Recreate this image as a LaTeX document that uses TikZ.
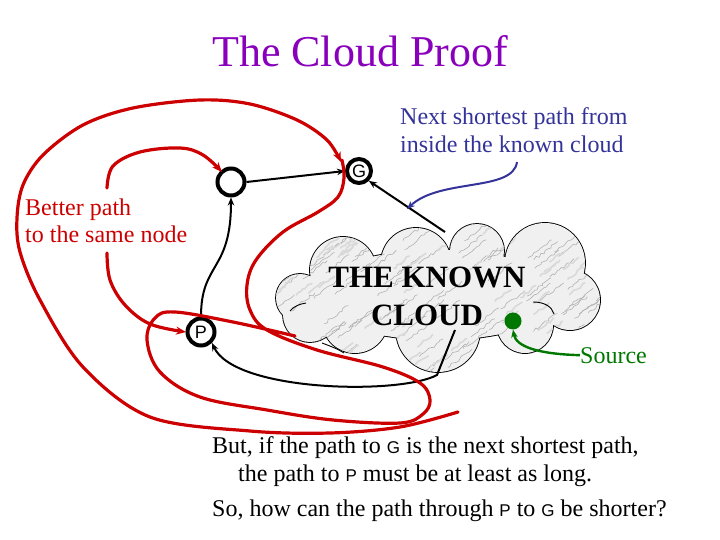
\documentclass[tikz,border=0pt]{standalone}
\usepackage{fontspec}
\setmainfont{Liberation Serif}
\setsansfont{Liberation Sans}
\usetikzlibrary{arrows.meta,decorations.pathmorphing}

\definecolor{titlepurple}{RGB}{136,0,187}
\definecolor{pathred}{RGB}{204,0,0}
\definecolor{noteblue}{RGB}{51,51,153}
\definecolor{srcgreen}{RGB}{0,120,0}

\newcommand{\cloudpath}{(300,298) circle[radius=24] (343,270) circle[radius=33]
  (416,263) circle[radius=35] (477,251) circle[radius=27] (545,263) circle[radius=40]
  (570,300) circle[radius=30] (525,325) circle[radius=28] (438,330) circle[radius=42]
  (355,320) circle[radius=33] (310,315) circle[radius=27] (438,295) ellipse[x radius=125, y radius=45]}

\begin{document}
\begin{tikzpicture}[x=1pt,y=-1pt,
  vertex/.style={circle, draw=black, line width=4pt, inner sep=0pt, minimum size=27pt,
    font=\sffamily\fontsize{18}{18}\selectfont},
  redpath/.style={draw=pathred, line width=3.2pt, line cap=round},
  redtip/.style={-{Stealth[length=10pt,width=8pt]}},
  blk/.style={draw=black, line width=2pt, -{Stealth[length=8pt,width=6.5pt]}},
  bluearrow/.style={draw=noteblue, line width=2pt, -{Stealth[length=8pt,width=6.5pt]}},
  greenarrow/.style={draw=srcgreen, line width=2.4pt, -{Stealth[length=8pt,width=6.5pt]}},
  txt/.style={inner sep=0pt, anchor=base west, font=\fontsize{24}{28}\selectfont},
  vein/.style={line width=0.6pt, decorate, decoration={random steps,segment length=3pt,amplitude=1.4pt}},
  cloudline/.style={draw=black, line width=0.9pt},
]
\useasboundingbox (0,0) rectangle (720,540);

% title
\node[inner sep=0pt, anchor=base, text=titlepurple, font=\fontsize{44}{48}\selectfont] (title) at (360,67) {The Cloud Proof};

% cloud: outline of a union of puffs, then a marbled fill clipped to it
\draw[black, line width=1.8pt] \cloudpath;
\begin{scope}
  \clip \cloudpath;
  \fill[gray!12] (260,210) rectangle (615,385);
  \pgfmathsetseed{12}
  \foreach \k in {1,...,130}{
    \pgfmathsetmacro{\xx}{250+rnd*360}
    \pgfmathsetmacro{\yy}{220+rnd*175}
    \draw[vein, gray!60] (\xx,\yy) -- ++(24,-18);
  }
  \foreach \k in {1,...,90}{
    \pgfmathsetmacro{\xx}{250+rnd*360}
    \pgfmathsetmacro{\yy}{220+rnd*175}
    \draw[vein, gray!30, line width=1.6pt] (\xx,\yy) -- ++(16,-12);
  }
\end{scope}
% inner puff arcs
\draw[cloudline] (533,302) .. controls (545,302) and (552,307) .. (554,314);
\draw[cloudline] (290,311) .. controls (294,306) and (300,304) .. (306,303);
\draw[cloudline] (322,343) .. controls (330,346) and (338,349) .. (344,353);

\node[inner sep=0pt, align=center, font=\bfseries\fontsize{31}{38}\selectfont] (known) at (427,296) {THE KNOWN\\CLOUD};

% vertices
\node[vertex] (mid) at (231,182) {};
\node[vertex, minimum size=24pt] (G) at (359,171) {G};
\node[vertex] (P) at (201,332) {P};

% source
\node[circle, fill=srcgreen, inner sep=0pt, minimum size=17pt] (src) at (513,321) {};
\node[txt, text=srcgreen] (srclabel) at (580,363) {Source};
\draw[greenarrow] (srclabel.west) .. controls (536,354) and (516,346) .. (src.south);

% black connectors
\draw[blk] (mid.east) -- (G.west);
\draw[blk] (P.north) .. controls (201,262) and (231,272) .. (mid.south);
\coordinate (c1) at (445,232);
\draw[blk] (c1) -- (G.south east);
\coordinate (c2) at (455,330);
\coordinate (c3) at (437,375);
\draw[blk] (c2) -- (c3) .. controls (400,395) and (235,392) .. (P.south east);

% red paths
\draw[redpath, redtip] plot[smooth, tension=0.55] coordinates {(458,412) (400,427) (330,433) (250,431) (150,417) (83,367) (40,300) (20,252) (17,218) (23,185) (43,155) (83,125) (133,108) (200,100) (250,104) (297,120) (327,140) (341,162)};
\draw[redpath] plot[smooth, tension=0.6] coordinates {(342,160) (344,178) (338,197) (318,212) (283,232) (256,260) (247,285) (250,310) (267,330) (317,350) (383,367) (420,383) (430,400) (423,414) (400,423) (333,420) (267,410) (200,397) (160,372) (147,340) (155,318) (175,312) (233,322) (295,336)};
\draw[redpath, redtip] plot[smooth, tension=0.6] coordinates {(107,188) (113,166) (140,152) (180,148) (203,155) (222,172)};
\draw[redpath, redtip] plot[smooth, tension=0.6] coordinates {(107,253) (110,280) (125,305) (150,324) (186,332)};

% red label
\node[txt, text=pathred, align=left] (better) at (25,243) {Better path\\to the same node};

% blue note
\node[txt, text=noteblue, align=left] (note) at (400,153) {Next shortest path from\\inside the known cloud};
\coordinate (b0) at (517,162);
\draw[bluearrow] (b0) .. controls (513,192) and (440,178) .. (407,209);

% bottom text
\newcommand{\gp}[1]{{\sffamily\fontsize{17}{17}\selectfont #1}}
\node[txt] (l1) at (212,453) {But, if the path to \gp{G} is the next shortest path,};
\node[txt] (l2) at (238,481) {the path to \gp{P} must be at least as long.};
\node[txt] (l3) at (212,516) {So, how can the path through \gp{P} to \gp{G} be shorter?};
\end{tikzpicture}
\end{document}
